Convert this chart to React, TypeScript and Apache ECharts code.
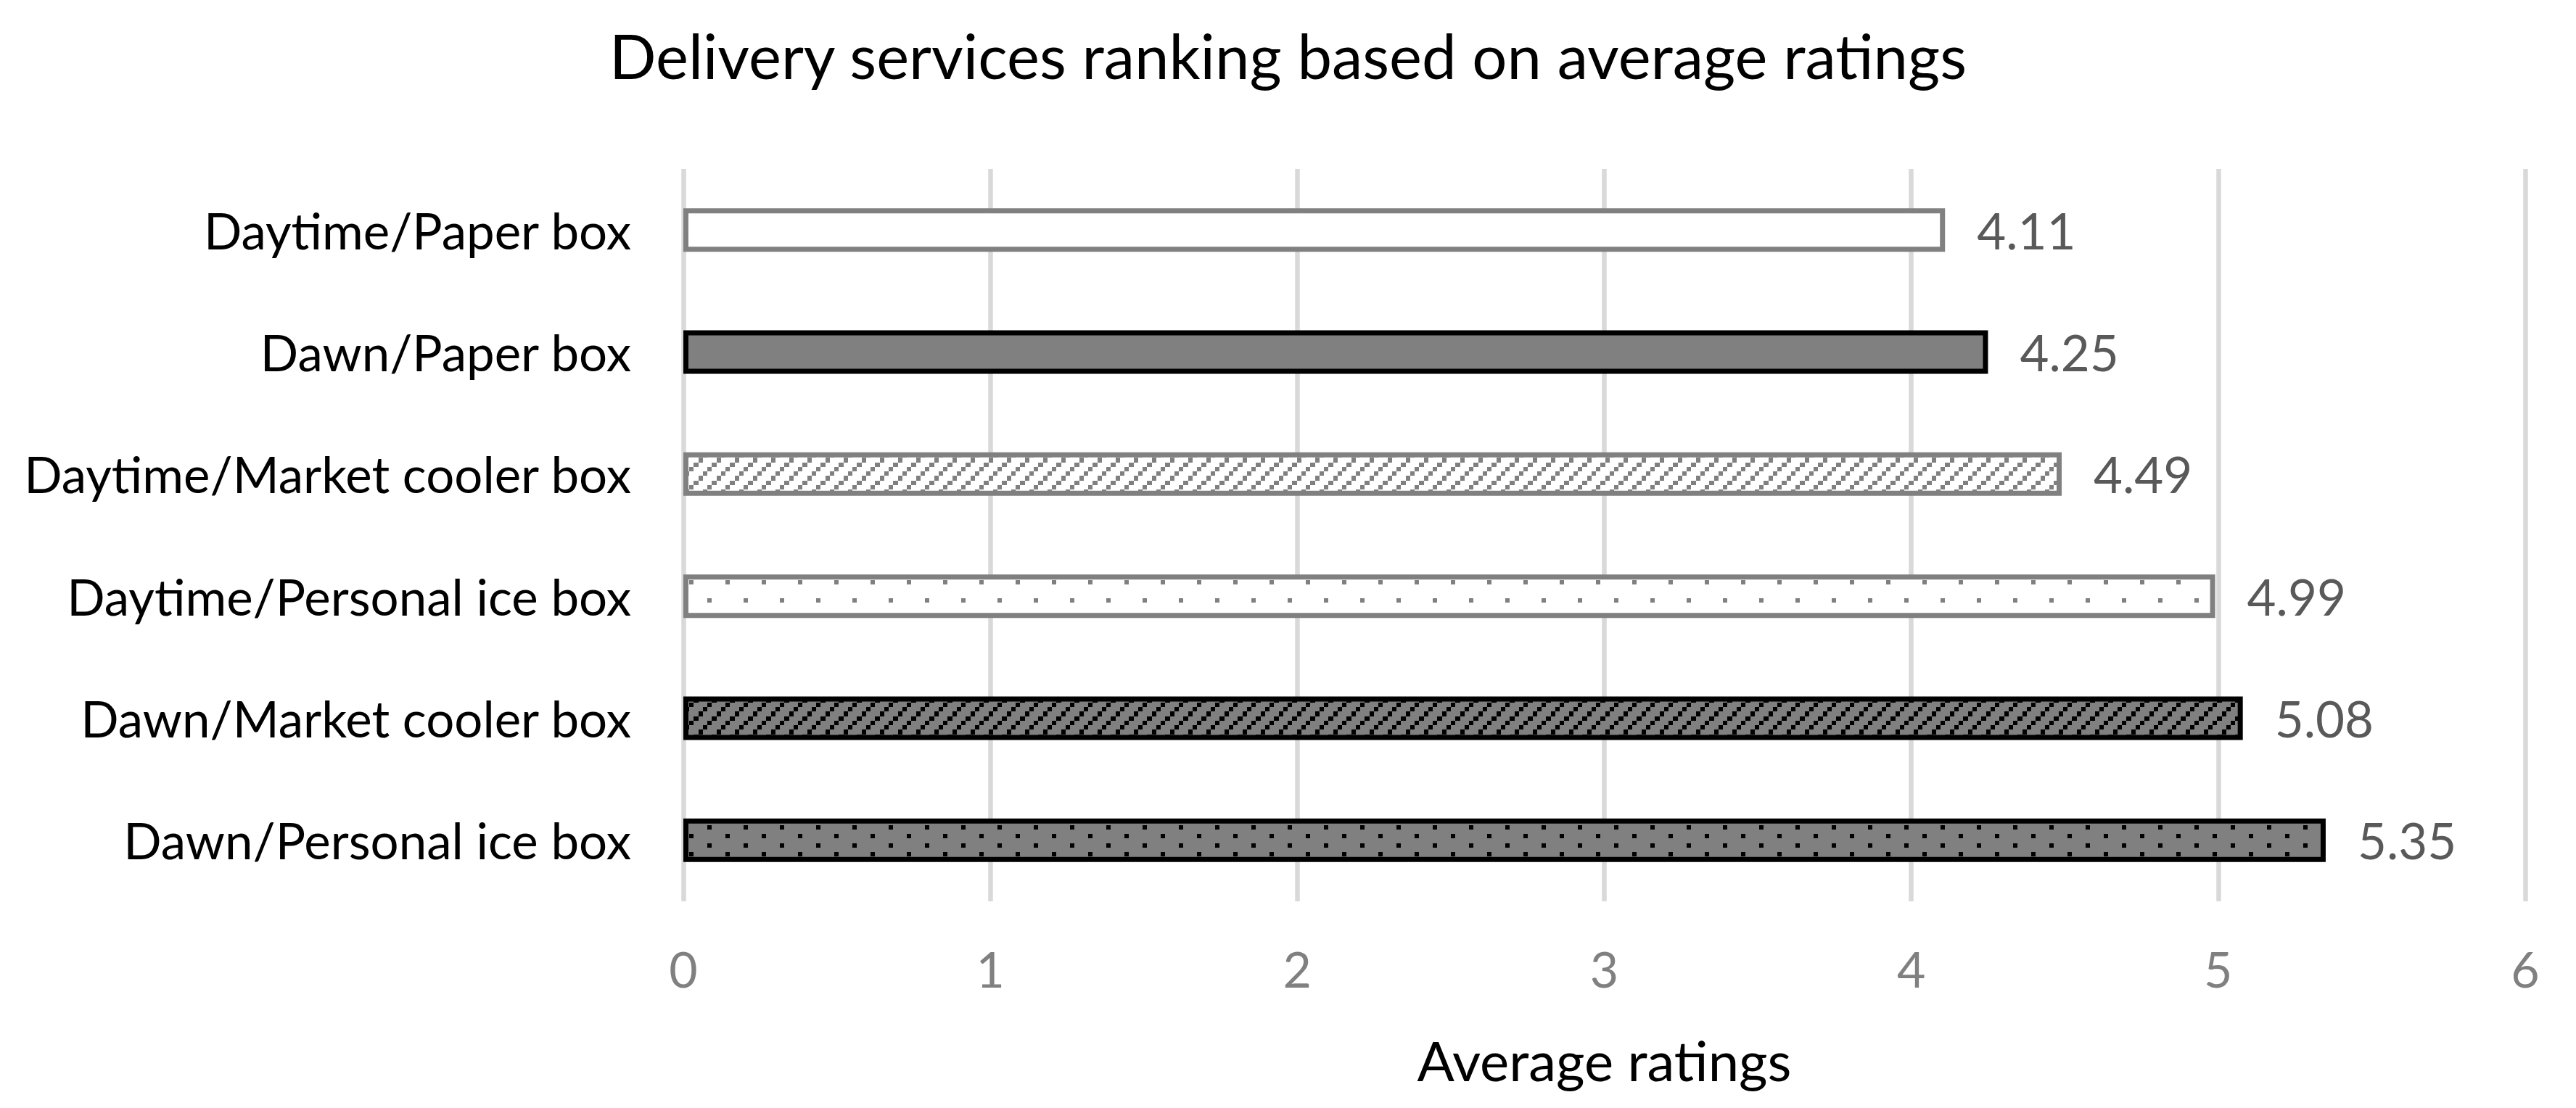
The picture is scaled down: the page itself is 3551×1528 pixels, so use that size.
import React, { useEffect, useRef } from "react";
import * as echarts from "echarts";

const chartTitle = "Delivery services ranking based on average ratings";
const axisTitle = "Average ratings";
const categories = [
  "Daytime/Paper box",
  "Dawn/Paper box",
  "Daytime/Market cooler box",
  "Daytime/Personal ice box",
  "Dawn/Market cooler box",
  "Dawn/Personal ice box",
];
const ratings = [4.11, 4.25, 4.49, 4.99, 5.08, 5.35];
const xTicks = [0, 1, 2, 3, 4, 5, 6];
// fill kind for each category (same order)
const fillKinds = ["plainLight", "plainDark", "diagLight", "dotsLight", "diagDark", "dotsDark"];

const FONT = "Lato, 'Open Sans', sans-serif";
const GRAY = "#808080";

function makeTile(w: number, h: number, cell: number, bg: string, fg: string, cells: number[][]) {
  const c = document.createElement("canvas");
  c.width = w;
  c.height = h;
  const ctx = c.getContext("2d")!;
  ctx.fillStyle = bg;
  ctx.fillRect(0, 0, w, h);
  ctx.fillStyle = fg;
  cells.forEach(([col, row]) => {
    const x0 = Math.round(col * cell);
    const y0 = Math.round(row * cell);
    const x1 = Math.round((col + 1) * cell);
    const y1 = Math.round((row + 1) * cell);
    ctx.fillRect(x0, y0, x1 - x0, y1 - y0);
  });
  return c;
}

function buildStyles() {
  const cell = 6.25;
  const diagCells = [[3, 0], [2, 1], [1, 2], [0, 3]];
  const diagLight = makeTile(25, 25, cell, "#ffffff", GRAY, diagCells);
  const diagDark = makeTile(25, 25, cell, GRAY, "#000000", diagCells);
  const dotsLight = makeTile(50, 50, cell, "#ffffff", GRAY, [[0, 0], [4, 4]]);
  const dotsDark = makeTile(50, 50, cell, GRAY, "#000000", [[0, 0], [4, 2], [0, 4], [4, 6]]);
  const bw = 7;
  return {
    plainLight: { color: "#ffffff", borderColor: GRAY, borderWidth: bw },
    plainDark: { color: GRAY, borderColor: "#000000", borderWidth: bw },
    diagLight: { color: { image: diagLight, repeat: "repeat" }, borderColor: GRAY, borderWidth: bw },
    dotsLight: { color: { image: dotsLight, repeat: "repeat" }, borderColor: GRAY, borderWidth: bw },
    diagDark: { color: { image: diagDark, repeat: "repeat" }, borderColor: "#000000", borderWidth: bw },
    dotsDark: { color: { image: dotsDark, repeat: "repeat" }, borderColor: "#000000", borderWidth: bw },
  } as Record<string, any>;
}

export default function App() {
  const ref = useRef<HTMLDivElement>(null);
  useEffect(() => {
    document.body.style.margin = "0";
    if (!ref.current) return;
    const chart = echarts.init(ref.current, null, { renderer: "svg" });
    const styles = buildStyles();
    chart.setOption({
      animation: false,
      backgroundColor: "#ffffff",
      title: {
        text: chartTitle,
        left: "center",
        top: 28,
        textStyle: { fontFamily: FONT, fontSize: 85, fontWeight: "normal", color: "#000000" },
      },
      grid: { left: 942, right: 70, top: 233, bottom: 285 },
      xAxis: {
        type: "value",
        min: xTicks[0],
        max: xTicks[xTicks.length - 1],
        interval: 1,
        name: axisTitle,
        nameLocation: "middle",
        nameGap: 180,
        nameTextStyle: { fontFamily: FONT, fontSize: 76, color: "#000000" },
        axisLine: { show: false },
        axisTick: { show: false },
        axisLabel: { margin: 58, color: GRAY, fontSize: 68, fontFamily: FONT },
        splitLine: { show: true, lineStyle: { color: "#d9d9d9", width: 6.5 } },
      },
      yAxis: {
        type: "category",
        data: categories,
        inverse: true,
        axisLine: { show: false },
        axisTick: { show: false },
        axisLabel: { margin: 72, color: "#000000", fontSize: 69, fontFamily: FONT },
        splitLine: { show: false },
      },
      series: [
        {
          type: "bar",
          barWidth: 60,
          data: ratings.map((v, i) => ({ value: v, itemStyle: styles[fillKinds[i]] })),
          label: {
            show: true,
            position: "right",
            distance: 44,
            color: "#595959",
            fontSize: 69,
            fontFamily: FONT,
            formatter: (p: any) => Number(p.value).toFixed(2),
          },
        },
      ],
    });
    return () => chart.dispose();
  }, []);
  return <div ref={ref} style={{ width: 3551, height: 1528 }} />;
}
